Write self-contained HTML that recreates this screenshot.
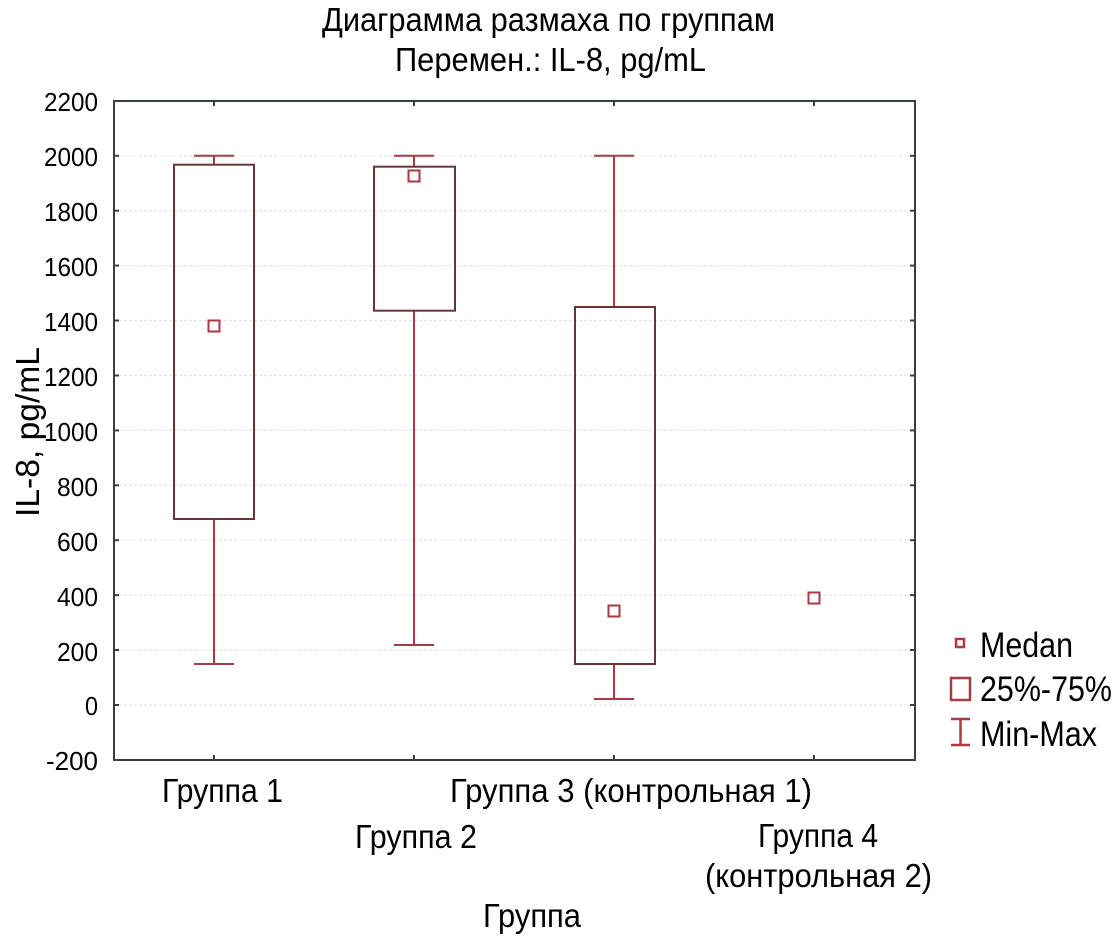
<!DOCTYPE html>
<html><head><meta charset="utf-8"><style>html,body{margin:0;padding:0;background:#fff}svg{display:block}</style></head>
<body>
<svg width="1112" height="936" viewBox="0 0 1112 936" xmlns="http://www.w3.org/2000/svg" font-family="'Liberation Sans',sans-serif" fill="#000">
<g stroke="#e4e4e4" stroke-width="1.2" stroke-dasharray="3,2">
<line x1="114" x2="915" y1="155.8" y2="155.8"/><line x1="114" x2="915" y1="210.7" y2="210.7"/><line x1="114" x2="915" y1="265.6" y2="265.6"/><line x1="114" x2="915" y1="320.5" y2="320.5"/><line x1="114" x2="915" y1="375.5" y2="375.5"/><line x1="114" x2="915" y1="430.4" y2="430.4"/><line x1="114" x2="915" y1="485.3" y2="485.3"/><line x1="114" x2="915" y1="540.2" y2="540.2"/><line x1="114" x2="915" y1="595.1" y2="595.1"/><line x1="114" x2="915" y1="650" y2="650"/><line x1="114" x2="915" y1="705" y2="705"/>
</g>
<rect x="114" y="101" width="801" height="659" fill="none" stroke="#3a3f44" stroke-width="2"/>
<g stroke="#3a3f44" stroke-width="2">
<line x1="214" x2="214" y1="101" y2="106"/><line x1="414" x2="414" y1="101" y2="106"/><line x1="614" x2="614" y1="101" y2="106"/><line x1="814" x2="814" y1="101" y2="106"/>
<line x1="214" x2="214" y1="760" y2="755"/><line x1="414" x2="414" y1="760" y2="755"/><line x1="614" x2="614" y1="760" y2="755"/><line x1="814" x2="814" y1="760" y2="755"/>
<line x1="114" x2="119" y1="155.8" y2="155.8"/><line x1="114" x2="119" y1="210.7" y2="210.7"/><line x1="114" x2="119" y1="265.6" y2="265.6"/><line x1="114" x2="119" y1="320.5" y2="320.5"/><line x1="114" x2="119" y1="375.5" y2="375.5"/><line x1="114" x2="119" y1="430.4" y2="430.4"/><line x1="114" x2="119" y1="485.3" y2="485.3"/><line x1="114" x2="119" y1="540.2" y2="540.2"/><line x1="114" x2="119" y1="595.1" y2="595.1"/><line x1="114" x2="119" y1="650" y2="650"/><line x1="114" x2="119" y1="705" y2="705"/>
<line x1="915" x2="910" y1="155.8" y2="155.8"/><line x1="915" x2="910" y1="210.7" y2="210.7"/><line x1="915" x2="910" y1="265.6" y2="265.6"/><line x1="915" x2="910" y1="320.5" y2="320.5"/><line x1="915" x2="910" y1="375.5" y2="375.5"/><line x1="915" x2="910" y1="430.4" y2="430.4"/><line x1="915" x2="910" y1="485.3" y2="485.3"/><line x1="915" x2="910" y1="540.2" y2="540.2"/><line x1="915" x2="910" y1="595.1" y2="595.1"/><line x1="915" x2="910" y1="650" y2="650"/><line x1="915" x2="910" y1="705" y2="705"/>
</g>
<g stroke="#a83a44" stroke-width="2" fill="none">
<line x1="214" x2="214" y1="155.8" y2="164.7"/><line x1="194" x2="234" y1="155.8" y2="155.8"/><line x1="214" x2="214" y1="519" y2="664"/><line x1="194" x2="234" y1="664" y2="664"/>
<line x1="414" x2="414" y1="155.8" y2="166.7"/><line x1="394" x2="434" y1="155.8" y2="155.8"/><line x1="414" x2="414" y1="310.7" y2="645"/><line x1="394" x2="434" y1="645" y2="645"/>
<line x1="614" x2="614" y1="155.8" y2="307"/><line x1="594" x2="634" y1="155.8" y2="155.8"/><line x1="614" x2="614" y1="664" y2="699"/><line x1="594" x2="634" y1="699" y2="699"/>
<rect x="208.5" y="320.5" width="11" height="11"/><rect x="408.5" y="170.5" width="11" height="11"/><rect x="608.5" y="605.5" width="11" height="11"/><rect x="808.5" y="592.5" width="11" height="11"/>
</g>
<g stroke="#6b3535" stroke-width="2" fill="none">
<rect x="174" y="164.7" width="80" height="354.3"/><rect x="374" y="166.7" width="81" height="144"/><rect x="575" y="307" width="80" height="357"/>
</g>
<g font-size="26" text-anchor="end" lengthAdjust="spacingAndGlyphs">
<text x="98" y="111" textLength="54" lengthAdjust="spacingAndGlyphs">2200</text><text x="98" y="166" textLength="54" lengthAdjust="spacingAndGlyphs">2000</text><text x="98" y="221" textLength="54" lengthAdjust="spacingAndGlyphs">1800</text><text x="98" y="276" textLength="54" lengthAdjust="spacingAndGlyphs">1600</text><text x="98" y="331" textLength="54" lengthAdjust="spacingAndGlyphs">1400</text><text x="98" y="386" textLength="54" lengthAdjust="spacingAndGlyphs">1200</text><text x="98" y="441" textLength="54" lengthAdjust="spacingAndGlyphs">1000</text><text x="98" y="496" textLength="41" lengthAdjust="spacingAndGlyphs">800</text><text x="98" y="551" textLength="41" lengthAdjust="spacingAndGlyphs">600</text><text x="98" y="606" textLength="41" lengthAdjust="spacingAndGlyphs">400</text><text x="98" y="661" textLength="41" lengthAdjust="spacingAndGlyphs">200</text><text x="98" y="715" textLength="13" lengthAdjust="spacingAndGlyphs">0</text><text x="98" y="770" textLength="52" lengthAdjust="spacingAndGlyphs">-200</text>
</g>
<g font-size="33">
<text x="322" y="31" textLength="453" lengthAdjust="spacingAndGlyphs">Диаграмма размаха по группам</text>
<text x="395" y="71" textLength="311" lengthAdjust="spacingAndGlyphs">Перемен.: IL-8, pg/mL</text>
<text x="162" y="802" textLength="121" lengthAdjust="spacingAndGlyphs">Группа 1</text>
<text x="355" y="848" textLength="122" lengthAdjust="spacingAndGlyphs">Группа 2</text>
<text x="450" y="802" textLength="362" lengthAdjust="spacingAndGlyphs">Группа 3 (контрольная 1)</text>
<text x="758" y="847" textLength="120" lengthAdjust="spacingAndGlyphs">Группа 4</text>
<text x="705" y="887" textLength="227" lengthAdjust="spacingAndGlyphs">(контрольная 2)</text>
<text x="483" y="927" textLength="98" lengthAdjust="spacingAndGlyphs">Группа</text>
<text transform="translate(39,517) rotate(-90)" textLength="170" lengthAdjust="spacingAndGlyphs">IL-8, pg/mL</text>
<text x="980" y="657" font-size="35" textLength="93" lengthAdjust="spacingAndGlyphs">Medan</text>
<text x="980" y="701" font-size="35" textLength="132" lengthAdjust="spacingAndGlyphs">25%-75%</text>
<text x="980" y="746" font-size="35" textLength="117" lengthAdjust="spacingAndGlyphs">Min-Max</text>
</g>
<g stroke="#a83a44" stroke-width="2.5" fill="none">
<rect x="956" y="639" width="8" height="8"/>
<rect x="951" y="678" width="19" height="22"/>
<line x1="951" x2="970" y1="719" y2="719"/><line x1="951" x2="970" y1="745" y2="745"/><line x1="960.5" x2="960.5" y1="719" y2="745"/>
</g>
</svg>
</body></html>
